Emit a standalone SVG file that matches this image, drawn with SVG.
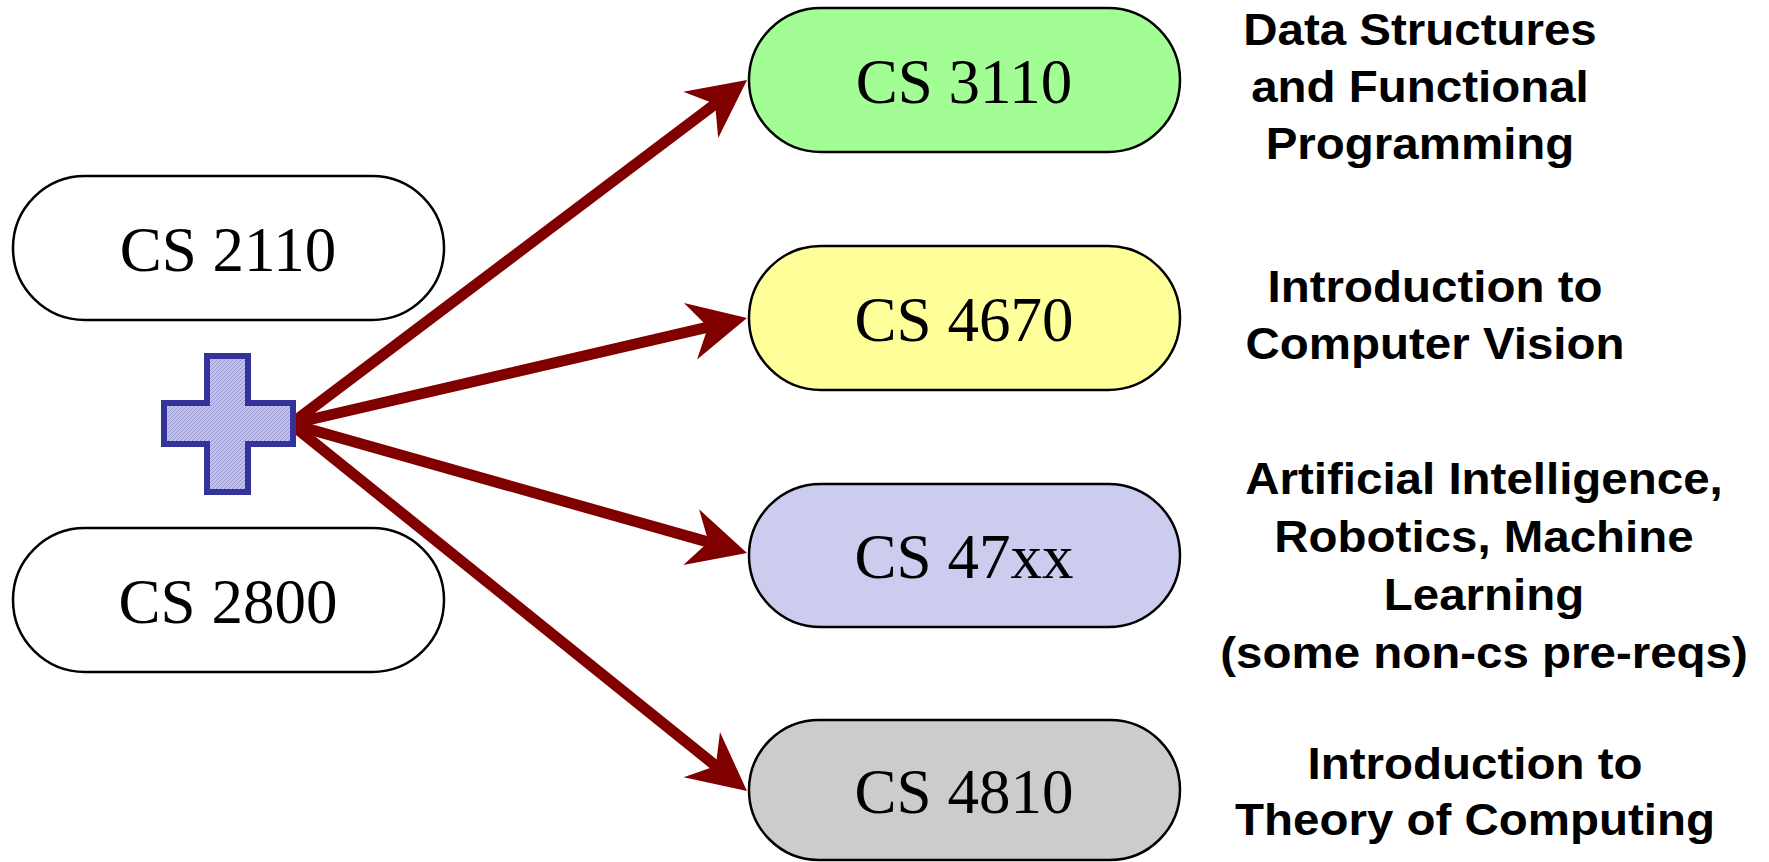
<svg xmlns="http://www.w3.org/2000/svg" width="1769" height="862" viewBox="0 0 1769 862">
<style>
.pill{stroke:#000;stroke-width:2.5}
.code{font-family:"Liberation Serif","Times New Roman",serif;font-size:63px;fill:#000;text-anchor:middle}
.desc{font-family:"Liberation Sans",Arial,sans-serif;font-size:45px;font-weight:bold;fill:#000;text-anchor:middle}
.arrow{stroke:#800000;stroke-width:11;fill:none;marker-end:url(#head)}
</style>
<defs>
<marker id="head" markerUnits="userSpaceOnUse" viewBox="0 0 60 60" markerWidth="60" markerHeight="60" refX="18" refY="30" orient="auto">
<path d="M0,1 L58,30 L0,59 L18,30 Z" fill="#800000"/>
</marker>
<pattern id="dots" patternUnits="userSpaceOnUse" width="4" height="4">
<rect width="4" height="4" fill="#c2c2e8"/>
<rect x="0" y="0" width="1" height="1" fill="#8e8ecd"/>
<rect x="2" y="2" width="1" height="1" fill="#8e8ecd"/>
<rect x="1" y="3" width="1" height="1" fill="#a2a2d8"/>
<rect x="3" y="1" width="1" height="1" fill="#a2a2d8"/>
</pattern>
</defs>

<g id="connectors">
<line class="arrow" x1="291" y1="424" x2="715.1" y2="104.1"/>
<line class="arrow" x1="291" y1="424" x2="708.0" y2="327.1"/>
<line class="arrow" x1="291" y1="424" x2="708.5" y2="542.1"/>
<line class="arrow" x1="291" y1="424" x2="715.8" y2="765.9"/>
</g>

<g id="cs2110">
<rect class="pill" x="13" y="176" width="431" height="144" rx="72" fill="#fff"/>
<text class="code" x="228" y="271">CS 2110</text>
</g>
<g id="cs2800">
<rect class="pill" x="13" y="528" width="431" height="144" rx="72" fill="#fff"/>
<text class="code" x="228" y="623">CS 2800</text>
</g>
<g id="plus">
<path d="M207,356 H248 V403 H293 V444 H248 V492 H207 V444 H164 V403 H207 Z" fill="url(#dots)" stroke="#333399" stroke-width="6"/>
</g>

<g id="cs3110">
<rect class="pill" x="749" y="8" width="431" height="144" rx="72" fill="#a3fd95"/>
<text class="code" x="964" y="103">CS 3110</text>
</g>
<g id="cs4670">
<rect class="pill" x="749" y="246" width="431" height="144" rx="72" fill="#ffff99"/>
<text class="code" x="964" y="341">CS 4670</text>
</g>
<g id="cs47xx">
<rect class="pill" x="749" y="484" width="431" height="143" rx="72" fill="#ccccee"/>
<text class="code" x="964" y="578">CS 47xx</text>
</g>
<g id="cs4810">
<rect class="pill" x="749" y="720" width="431" height="140" rx="70" fill="#cccccc"/>
<text class="code" x="964" y="813">CS 4810</text>
</g>

<g id="label3110" transform="translate(1420,0) scale(1.055,1)">
<text class="desc" x="0" y="45">Data Structures</text>
<text class="desc" x="0" y="102">and Functional</text>
<text class="desc" x="0" y="159">Programming</text>
</g>
<g id="label4670" transform="translate(1435,0) scale(1.055,1)">
<text class="desc" x="0" y="302">Introduction to</text>
<text class="desc" x="0" y="359">Computer Vision</text>
</g>
<g id="label47xx" transform="translate(1484,0) scale(1.055,1)">
<text class="desc" x="0" y="494">Artificial Intelligence,</text>
<text class="desc" x="0" y="552">Robotics, Machine</text>
<text class="desc" x="0" y="610">Learning</text>
<text class="desc" x="0" y="668">(some non-cs pre-reqs)</text>
</g>
<g id="label4810" transform="translate(1475,0) scale(1.055,1)">
<text class="desc" x="0" y="779">Introduction to</text>
<text class="desc" x="0" y="835">Theory of Computing</text>
</g>
</svg>
